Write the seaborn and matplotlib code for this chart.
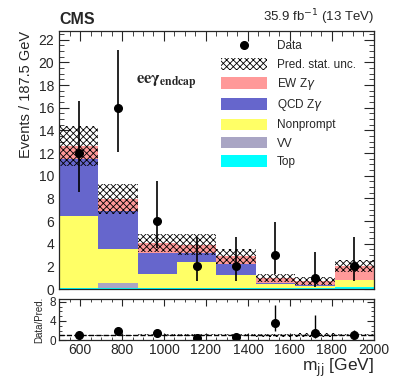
import numpy as np
import pandas as pd
import seaborn as sns
import matplotlib.pyplot as plt
from matplotlib.patches import Patch
from matplotlib.lines import Line2D
from matplotlib.ticker import MultipleLocator

sns.set_style('ticks')
plt.rcParams['font.family'] = ['Liberation Sans', 'DejaVu Sans']
plt.rcParams['hatch.linewidth'] = 0.6

# bin edges of m_jj (GeV)
edges = [500, 687.5, 875, 1062.5, 1250, 1437.5, 1625, 1812.5, 2000]
centers = [593.75, 781.25, 968.75, 1156.25, 1343.75, 1531.25, 1718.75, 1906.25]

# stacked predictions per bin (bottom to top)
top = [0.1, 0.1, 0.1, 0.1, 0.1, 0.1, 0.1, 0.15]
vv = [0.0, 0.45, 0.0, 0.0, 0.0, 0.0, 0.0, 0.0]
nonprompt = [6.35, 2.96, 1.28, 2.3, 1.13, 0.35, 0.15, 0.64]
qcd = [5.05, 3.37, 1.84, 0.82, 0.97, 0.1, 0.1, 0.01]
ew = [1.1, 1.09, 0.82, 0.68, 0.7, 0.4, 0.37, 1.25]
stat_unc = [1.75, 1.3, 0.8, 0.93, 0.68, 0.35, 0.31, 0.5]

# observed data with asymmetric errors
data = [12, 16, 6, 2, 2, 3, 1, 2]
err_lo = [3.42, 3.94, 2.38, 1.29, 1.29, 1.63, 0.83, 1.29]
err_hi = [4.58, 5.11, 3.58, 2.64, 2.64, 2.92, 2.30, 2.64]

# data / prediction ratio
ratio = [1.0, 1.96, 1.45, 0.48, 0.62, 3.5, 1.57, 1.0]
ratio_lo = [0.27, 0.5, 0.6, 0.33, 0.45, 1.7, 1.15, 0.63]
ratio_hi = [0.37, 0.64, 0.9, 0.68, 0.9, 3.8, 3.7, 1.2]

names = ['Top', 'VV', 'Nonprompt', 'QCD Z$\\gamma$', 'EW Z$\\gamma$']
colors = ['#00ffff', '#a9a5c4', '#ffff66', '#6666cc', '#ff9999']
layers = [top, vv, nonprompt, qcd, ew]

df = pd.DataFrame({
    'mjj': np.tile(centers, len(names)),
    'events': np.concatenate(layers),
    'process': np.repeat(names, len(centers)),
})

total = np.sum(layers, axis=0)

fig = plt.figure(figsize=(3.99, 3.83), dpi=100)
ax = fig.add_axes([0.148, 0.245, 0.789, 0.674])
rax = fig.add_axes([0.148, 0.112, 0.789, 0.108])

# seaborn puts the first hue level on top of the stack, so reverse the order
sns.histplot(data=df, x='mjj', weights='events', hue='process',
             hue_order=names[::-1], palette=colors[::-1], multiple='stack',
             bins=edges, element='bars', linewidth=0, alpha=1, legend=False, ax=ax)

# statistical uncertainty band
ax.bar(centers, 2 * np.array(stat_unc), bottom=total - np.array(stat_unc),
       width=187.5, fill=False, hatch='xxxxx', linewidth=0, edgecolor='k')

ax.errorbar(centers, data, yerr=[err_lo, err_hi], fmt='o', color='k',
            ms=5.5, elinewidth=1.2, capsize=0)

ax.set_xlim(500, 2000)
ax.set_ylim(0, 22.76)
ax.set_xlabel('')
ax.set_ylabel('Events / 187.5 GeV', fontsize=10.5, loc='top')
ax.tick_params(labelbottom=False)
ax.yaxis.set_major_locator(MultipleLocator(2))
ax.yaxis.set_minor_locator(MultipleLocator(0.5))

ax.text(0.0, 1.015, 'CMS', transform=ax.transAxes, fontsize=11.5,
        fontweight='bold', ha='left', va='bottom')
ax.text(1.0, 1.015, '35.9 fb$^{-1}$ (13 TeV)', transform=ax.transAxes,
        fontsize=9.5, ha='right', va='bottom')
ax.text(0.245, 0.80, r'$\mathbf{ee\gamma_{endcap}}$', transform=ax.transAxes,
        fontsize=12, math_fontfamily='stix', ha='left', va='center')

handles = [Line2D([], [], marker='o', color='k', ms=5.5, linestyle='none'),
           Patch(facecolor='white', hatch='xxxxx', edgecolor='k', linewidth=0)]
handles += [Patch(facecolor=c, edgecolor='none') for c in colors[::-1]]
labels = ['Data', 'Pred. stat. unc.'] + names[::-1]
ax.legend(handles, labels, loc='upper left', bbox_to_anchor=(0.5, 0.985),
          frameon=False, fontsize=8.5, handlelength=3.9, handleheight=1.15,
          labelspacing=0.45, handletextpad=0.8, borderaxespad=0)

# ratio panel
rel = np.array(stat_unc) / total
rax.bar(centers, 2 * rel, bottom=1 - rel, width=187.5, fill=False,
        hatch='xxxxx', linewidth=0, edgecolor='k')
rax.axhline(1, color='k', linestyle='--', linewidth=1)
rax.errorbar(centers, ratio, yerr=[ratio_lo, ratio_hi], fmt='o', color='k',
             ms=5.5, elinewidth=1.0, capsize=0)
rax.set_xlim(500, 2000)
rax.set_ylim(0, 8.65)
rax.set_yticks([0, 4, 8])
rax.yaxis.set_minor_locator(MultipleLocator(1))
rax.xaxis.set_major_locator(MultipleLocator(200))
rax.xaxis.set_minor_locator(MultipleLocator(50))
rax.set_ylabel('Data/Pred.', fontsize=7)
rax.set_xlabel('m$_{\\rm jj}$ [GeV]', fontsize=12.5, loc='right', labelpad=0)
ax.xaxis.set_major_locator(MultipleLocator(200))
ax.xaxis.set_minor_locator(MultipleLocator(50))

for a in (ax, rax):
    a.tick_params(which='both', direction='in', top=True, right=True,
                  labelsize=10)
    a.tick_params(which='major', length=7)
    a.tick_params(which='minor', length=3.5)
    for s in a.spines.values():
        s.set_linewidth(0.9)
rax.tick_params(which='major', length=5, pad=2)
rax.tick_params(which='minor', length=2.5)
rax.tick_params(axis='y', labelsize=8.5)

fig.savefig('out.png', dpi=100)
